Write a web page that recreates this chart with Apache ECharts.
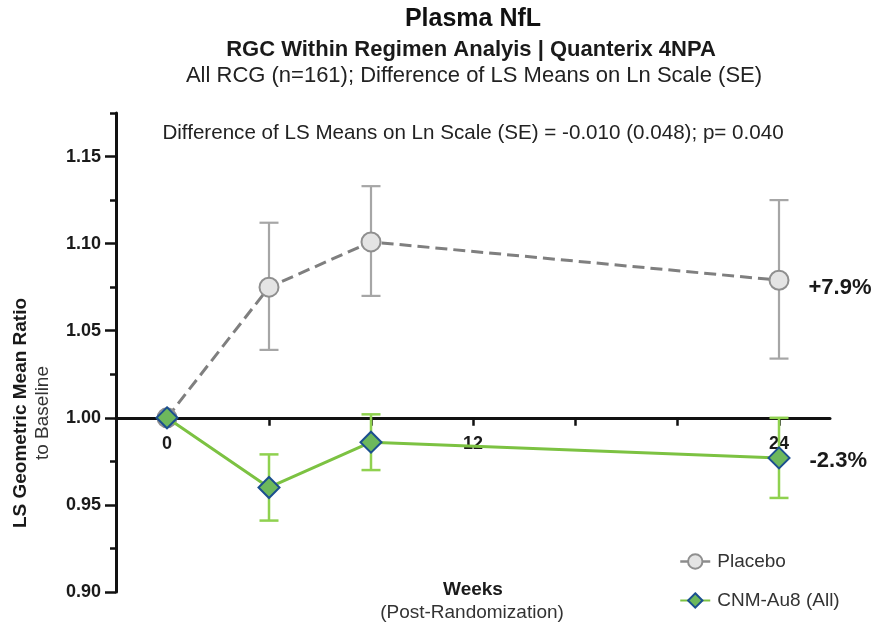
<!DOCTYPE html>
<html><head><meta charset="utf-8">
<script src="https://cdn.jsdelivr.net/npm/echarts@6/dist/echarts.min.js"></script>
<style>html,body{margin:0;padding:0;background:#fff}#c{width:875px;height:630px}</style>
</head><body><div id="c"></div>
<script>
// ---- data ----
const weeks = [0, 4, 8, 24];
const placeboMean = [1.000, 1.075, 1.101, 1.079];
const placeboLow  = [null, 1.039, 1.070, 1.034];
const placeboHigh = [null, 1.112, 1.133, 1.125];
const cnmMean = [1.000, 0.960, 0.986, 0.977];
const cnmLow  = [null, 0.941, 0.970, 0.954];
const cnmHigh = [null, 0.979, 1.002, 1.000];
const seriesNames = ['Placebo', 'CNM-Au8 (All)'];
const endLabels = ['+7.9%', '-2.3%'];
const yTickValues = [0.90, 0.95, 1.00, 1.05, 1.10, 1.15];
const xTickValues = [0, 4, 8, 12, 16, 20, 24];
const xLabelValues = [0, 12, 24];
const titleText = 'Plasma NfL';
const subtitle1 = 'RGC Within Regimen Analyis | Quanterix 4NPA';
const subtitle2 = 'All RCG (n=161); Difference of LS Means on Ln Scale (SE)';
const annotation = 'Difference of LS Means on Ln Scale (SE) = -0.010 (0.048); p= 0.040';
const yName1 = 'LS Geometric Mean Ratio';
const yName2 = 'to Baseline';
const xName1 = 'Weeks';
const xName2 = '(Post-Randomization)';

// baseline ratio: x-axis crosses the y axis at this value
const BASE = 1.0;
const Y_MIN = 0.90, Y_MAX = 1.175;
const FONT = "'Liberation Sans', Arial, Helvetica, sans-serif";
const sh = v => +(v - BASE).toFixed(4);

function lineData(mean, endLabel, offY) {
  return weeks.map((w, i) => {
    const d = { value: [w, sh(mean[i])] };
    if (i === weeks.length - 1) {
      d.label = { show: true, position: 'right', distance: 19, offset: [0, offY],
        formatter: endLabel, fontFamily: FONT, fontSize: 22, fontWeight: 'bold', color: '#1a1a1a' };
    }
    return d;
  });
}
function errData(low, high) {
  const out = [];
  weeks.forEach((w, i) => { if (low[i] != null) out.push([w, sh(low[i]), sh(high[i])]); });
  return out;
}
function errRender(color, width) {
  return function (params, api) {
    const x = api.value(0);
    const lo = api.coord([x, api.value(1)]);
    const hi = api.coord([x, api.value(2)]);
    const h = 9.5;
    const style = { stroke: color, lineWidth: width, fill: null };
    return { type: 'group', children: [
      { type: 'line', shape: { x1: lo[0], y1: lo[1], x2: hi[0], y2: hi[1] }, style },
      { type: 'line', shape: { x1: lo[0] - h, y1: lo[1], x2: lo[0] + h, y2: lo[1] }, style },
      { type: 'line', shape: { x1: hi[0] - h, y1: hi[1], x2: hi[0] + h, y2: hi[1] }, style }
    ]};
  };
}
function gtext(x, y, text, font, color, rot) {
  return { type: 'text', x: x, y: y, rotation: rot || 0, z: 10,
    style: { text: text, font: font, fill: color, align: 'center', verticalAlign: 'middle',
      textAlign: 'center', textVerticalAlign: 'middle' } };
}

const chart = echarts.init(document.getElementById('c'), null, { renderer: 'canvas' });
const axisColor = '#111';
const yTicksShifted = yTickValues.map(sh);
chart.setOption({
  animation: false,
  backgroundColor: '#fff',
  grid: { left: 116, right: 45, top: 113, bottom: 38, containLabel: false },
  xAxis: {
    type: 'value', min: -2, max: 26, interval: 2,
    axisLine: { show: true, onZero: true, lineStyle: { color: axisColor, width: 3 } },
    axisTick: { show: true, customValues: xTickValues, length: 8, lineStyle: { color: axisColor, width: 2.5 } },
    // labels sit just under the baseline line (which crosses at ratio 1.00)
    axisLabel: { show: true, customValues: xLabelValues, margin: -157, fontFamily: FONT, fontSize: 18,
      fontWeight: 'bold', color: '#1a1a1a', showMinLabel: true, showMaxLabel: true },
    splitLine: { show: false }
  },
  yAxis: [{
    type: 'value', position: 'left', min: sh(Y_MIN), max: sh(Y_MAX), interval: 0.05,
    axisLine: { show: true, onZero: false, lineStyle: { color: axisColor, width: 3 } },
    axisTick: { show: true, customValues: yTicksShifted, length: 11,
      lineStyle: { color: axisColor, width: 2.5 } },
    axisLabel: { show: true, customValues: yTicksShifted, margin: 15, showMinLabel: true,
      hideOverlap: false,
      formatter: v => (v + BASE).toFixed(2), fontFamily: FONT, fontSize: 18, fontWeight: 'bold', color: '#1a1a1a' },
    splitLine: { show: false }
  }, {
    type: 'value', position: 'left', min: sh(Y_MIN), max: sh(Y_MAX), interval: 0.025,
    axisLine: { show: false, onZero: false },
    axisTick: { show: true, length: 6, lineStyle: { color: axisColor, width: 2.5 } },
    axisLabel: { show: false },
    splitLine: { show: false }
  }],
  legend: {
    orient: 'vertical', left: 674, top: 547, itemWidth: 30, itemHeight: 18, itemGap: 20,
    textStyle: { fontFamily: FONT, fontSize: 19, color: '#333', padding: [0, 0, 0, 2] },
    data: [
      { name: seriesNames[0], lineStyle: { type: 'solid', width: 2.5, color: '#8c8c8c' } },
      { name: seriesNames[1] }
    ]
  },
  series: [
    { name: 'err0', type: 'custom', z: 1, renderItem: errRender('#a6a6a6', 2.2),
      encode: { x: 0, y: [1, 2] }, data: errData(placeboLow, placeboHigh), silent: true },
    { name: 'err1', type: 'custom', z: 1, renderItem: errRender('#8fd14f', 2.5),
      encode: { x: 0, y: [1, 2] }, data: errData(cnmLow, cnmHigh), silent: true },
    { name: seriesNames[0], type: 'line', z: 3, data: lineData(placeboMean, endLabels[0], 8),
      symbol: 'circle', symbolSize: 19,
      lineStyle: { color: '#7f7f7f', width: 3, type: [12, 6] },
      itemStyle: { color: '#e4e4e4', borderColor: '#8f8f8f', borderWidth: 2 } },
    { name: seriesNames[1], type: 'line', z: 4, data: lineData(cnmMean, endLabels[1], 3),
      symbol: 'diamond', symbolSize: 21,
      lineStyle: { color: '#7cc242', width: 3 },
      itemStyle: { color: '#6db85c', borderColor: '#1b4f8f', borderWidth: 2 } }
  ],
  graphic: [
    gtext(473, 19, titleText, 'bold 25px ' + FONT, '#111'),
    gtext(471, 50, subtitle1, 'bold 22px ' + FONT, '#1a1a1a'),
    gtext(474, 76, subtitle2, '22px ' + FONT, '#222'),
    gtext(473, 133, annotation, '20.6px ' + FONT, '#222'),
    gtext(21, 413, yName1, 'bold 19px ' + FONT, '#1a1a1a', Math.PI / 2),
    gtext(43, 413, yName2, '19px ' + FONT, '#333', Math.PI / 2),
    gtext(473, 590, xName1, 'bold 19px ' + FONT, '#1a1a1a'),
    gtext(472, 613, xName2, '19px ' + FONT, '#333')
  ]
});
</script></body></html>
